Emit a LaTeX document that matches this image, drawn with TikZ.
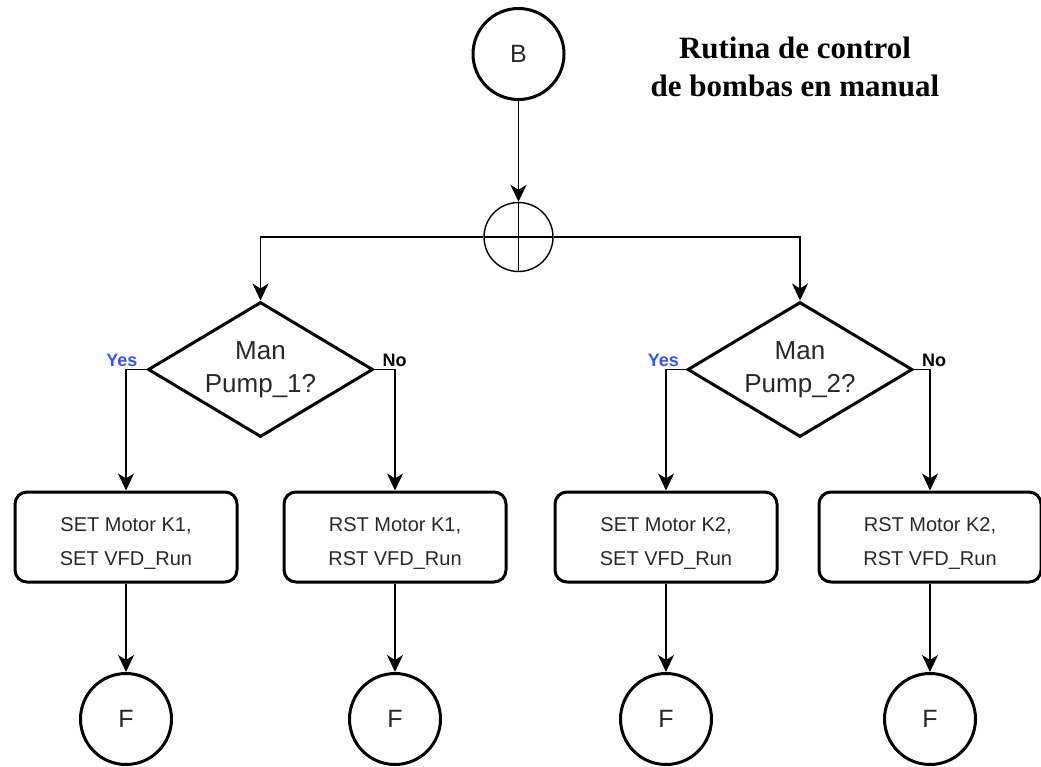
\documentclass[tikz,border=0pt]{standalone}
\usepackage{fontspec}
\setmainfont{Liberation Sans}
\newfontfamily\titlefont{Liberation Serif}
\usetikzlibrary{shapes.geometric,arrows.meta}
\definecolor{yesblue}{RGB}{51,85,255}
\definecolor{txt}{RGB}{40,40,40}
% two centred lines, set slightly below the middle of their box
\newcommand{\twolines}[2]{\raisebox{-9.5pt}[0pt][0pt]{\begin{tabular}{@{}c@{}}#1\\#2\end{tabular}}}
\begin{document}
\begin{tikzpicture}[x=1pt,y=-1pt,
  conn/.style={line width=1.8pt,-{Stealth[length=17pt,width=16pt,inset=5pt]}},
  term/.style={circle,draw,line width=3pt,minimum size=91pt,inner sep=0pt,
    font=\fontsize{25}{30}\selectfont,text=txt},
  junction/.style={circle,draw,line width=1.4pt,minimum size=69pt,inner sep=0pt,
    path picture={\draw[line width=1.4pt]
      (path picture bounding box.north) -- (path picture bounding box.south)
      (path picture bounding box.west) -- (path picture bounding box.east);}},
  decision/.style={diamond,draw,line width=3pt,minimum width=225pt,minimum height=135pt,
    aspect=1.667,inner sep=0pt,align=center,font=\fontsize{26}{33}\selectfont,text=txt},
  action/.style={rectangle,rounded corners=12pt,draw,line width=3pt,minimum width=222pt,
    minimum height=90pt,inner sep=0pt,font=\fontsize{20}{34}\selectfont,text=txt},
  yeslbl/.style={font=\bfseries\fontsize{18}{18}\selectfont,text=yesblue,inner sep=0pt},
  nolbl/.style={font=\bfseries\fontsize{18}{18}\selectfont,text=black,inner sep=0pt},
]
\useasboundingbox (0,0) rectangle (1041,766);

% title
\node[font=\titlefont\bfseries\fontsize{31}{38}\selectfont,align=center,anchor=north,
  inner sep=0pt] (title) at (795,37) {Rutina de control\\de bombas en manual};

% start connector and branch junction
\node[term] (B) at (518.5,54) {B};
\node[junction] (J) at (518.5,237) {};

% decisions
\node[decision] (D1) at (260.5,369.5) {Man\\Pump\_1?};
\node[decision] (D2) at (800,369.5) {Man\\Pump\_2?};

% actions
\node[action] (A1) at (126,537) {\twolines{SET Motor K1,}{SET VFD\_Run}};
\node[action] (A2) at (395,537) {\twolines{RST Motor K1,}{RST VFD\_Run}};
\node[action] (A3) at (666,537) {\twolines{SET Motor K2,}{SET VFD\_Run}};
\node[action] (A4) at (930,537) {\twolines{RST Motor K2,}{RST VFD\_Run}};

% end connectors
\node[term] (F1) at (126,719) {F};
\node[term] (F2) at (395,719) {F};
\node[term] (F3) at (666,719) {F};
\node[term] (F4) at (930,719) {F};

% branch labels
\node[yeslbl,anchor=base east] (y1) at ([xshift=-9pt,yshift=3.5pt]D1.west) {Yes};
\node[nolbl,anchor=base west] (n1) at ([xshift=8pt,yshift=3.5pt]D1.east) {No};
\node[yeslbl,anchor=base east] (y2) at ([xshift=-7pt,yshift=3.5pt]D2.west) {Yes};
\node[nolbl,anchor=base west] (n2) at ([xshift=8pt,yshift=3.5pt]D2.east) {No};

% flow
\draw[conn] (B.south) -- (J.north);
\draw[conn] (J.west) -| (D1.north);
\draw[conn] (J.east) -| (D2.north);
\draw[conn] (D1.west) -| (A1.north);
\draw[conn] (D1.east) -| (A2.north);
\draw[conn] (D2.west) -| (A3.north);
\draw[conn] (D2.east) -| (A4.north);
\draw[conn] (A1.south) -- (F1.north);
\draw[conn] (A2.south) -- (F2.north);
\draw[conn] (A3.south) -- (F3.north);
\draw[conn] (A4.south) -- (F4.north);
\end{tikzpicture}
\end{document}
